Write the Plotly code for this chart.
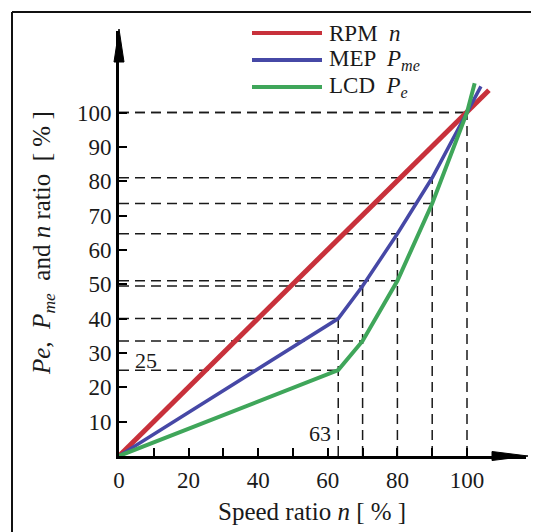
import plotly.graph_objects as go

# values (percent)
rpm_x = [0, 100, 106.3]
rpm_y = [0, 100, 106.5]
mep_x = [0, 63, 70, 80, 90, 100, 104]
mep_y = [0, 40, 49.5, 64.7, 81, 100, 107.6]
lcd_x = [0, 63, 70, 80, 90, 100, 102.2]
lcd_y = [0, 25, 33.5, 51, 73.5, 100, 108.5]
guide_x = [63, 70, 80, 90, 100]
x_ticks = [0, 20, 40, 60, 80, 100]
x_minor = [10, 30, 50, 70, 90]
y_ticks = [10, 20, 30, 40, 50, 60, 70, 80, 90, 100]
series = [
    ("RPM", "n", rpm_x, rpm_y, "#C8313B", 5),
    ("MEP", "P<sub>me</sub>", mep_x, mep_y, "#4648A6", 3.5),
    ("LCD", "P<sub>e</sub>", lcd_x, lcd_y, "#3FA65A", 4),
]

# the page body adds an 8px offset, so the figure is 8px smaller
OFF = 8
W, H = 539 - OFF, 532 - OFF
L, R, T, B = 119 - OFF, 13, 31 - OFF, 76
PW, PH = W - L - R, H - T - B
X_PER, Y_PER = 3.48, 3.435
FONT = "Liberation Serif"
INK = "#1a1a1a"


def px(x):
    # x in reference page pixels -> paper
    return (x - OFF - L) / PW


def py(y):
    return (H - B - (y - OFF)) / PH


fig = go.Figure()

# dashed guides from the interior points of MEP / LCD
for gx in guide_x:
    ys = [yy for s in series[1:] for xx, yy in zip(s[2], s[3]) if xx == gx]
    for gy in ys:
        fig.add_trace(go.Scatter(x=[0, gx], y=[gy, gy], mode="lines", showlegend=False,
                                 line=dict(color=INK, width=1.5, dash="10px,6px"), hoverinfo="skip"))
    fig.add_trace(go.Scatter(x=[gx, gx], y=[0, max(ys)], mode="lines", showlegend=False,
                             line=dict(color=INK, width=1.5, dash="10px,6px"), hoverinfo="skip"))

for name, sym, xs, ys, color, width in series:
    fig.add_trace(go.Scatter(x=xs, y=ys, mode="lines", name=name, showlegend=False,
                             line=dict(color=color, width=width)))

axis_y = 456
shapes = [
    # frame (left and top edges only)
    dict(type="line", xref="paper", yref="paper", x0=px(12), x1=px(12), y0=py(12), y1=py(540),
         line=dict(color="#111", width=2)),
    dict(type="line", xref="paper", yref="paper", x0=px(12), x1=px(545), y0=py(12), y1=py(12),
         line=dict(color="#111", width=2)),
    # arrow heads
    dict(type="path", xref="paper", yref="paper", fillcolor="#000", line=dict(color="#000", width=1),
         path=f"M{px(119)},{py(29)} L{px(114)},{py(62)} L{px(124)},{py(62)} Z"),
    dict(type="path", xref="paper", yref="paper", fillcolor="#000", line=dict(color="#000", width=1),
         path=f"M{px(528)},{py(axis_y)} L{px(492)},{py(axis_y - 4.5)} L{px(492)},{py(axis_y + 4.5)} Z"),
]

annotations = []
# manual legend
for i, (name, sym, xs, ys, color, width) in enumerate(series):
    ly = [33, 60, 87][i]
    shapes.append(dict(type="line", xref="paper", yref="paper", x0=px(252), x1=px(322),
                       y0=py(ly), y1=py(ly), line=dict(color=color, width=4)))
    annotations.append(dict(xref="paper", yref="paper", x=px(327), y=py(ly), xanchor="left",
                            yanchor="middle", showarrow=False, text=f"{name}  <i>{sym}</i>",
                            font=dict(family=FONT, size=23, color=INK)))

annotations += [
    dict(x=7.8, y=27.9, text="25", showarrow=False, font=dict(family=FONT, size=22, color=INK)),
    dict(x=57.8, y=6.5, text="63", showarrow=False, font=dict(family=FONT, size=22, color=INK)),
    dict(xref="paper", yref="paper", x=px(312), y=py(511), xanchor="center", yanchor="middle",
         showarrow=False, text="Speed ratio <i>n</i> [ % ]",
         font=dict(family=FONT, size=25, color=INK)),
    dict(xref="paper", yref="paper", x=px(44), y=py(243), xanchor="center", yanchor="middle",
         showarrow=False, textangle=-90,
         text="<i>Pe</i>,  <i>P<sub>me</sub></i>  and <i>n</i> ratio  [ % ]",
         font=dict(family=FONT, size=25, color=INK)),
]

fig.update_layout(
    width=W,
    height=H,
    margin=dict(l=L, r=R, t=T, b=B),
    paper_bgcolor="white",
    plot_bgcolor="white",
    showlegend=False,
    shapes=shapes,
    annotations=annotations,
    xaxis=dict(
        range=[0, PW / X_PER],
        tickvals=x_ticks,
        ticks="inside",
        ticklen=8,
        tickwidth=2,
        tickcolor="#000",
        minor=dict(tickvals=x_minor, ticks="inside", ticklen=8, tickwidth=2, tickcolor="#000"),
        showline=True,
        linecolor="#000",
        linewidth=3,
        showgrid=False,
        zeroline=False,
        ticklabelstandoff=1,
        tickfont=dict(family=FONT, size=23, color=INK),
    ),
    yaxis=dict(
        range=[0, PH / Y_PER],
        tickvals=y_ticks,
        ticks="inside",
        ticklen=8,
        tickwidth=2,
        tickcolor="#000",
        showline=True,
        linecolor="#000",
        linewidth=3,
        showgrid=False,
        zeroline=False,
        ticklabelstandoff=0,
        tickfont=dict(family=FONT, size=23, color=INK),
    ),
)

fig.write_html("out.html")
